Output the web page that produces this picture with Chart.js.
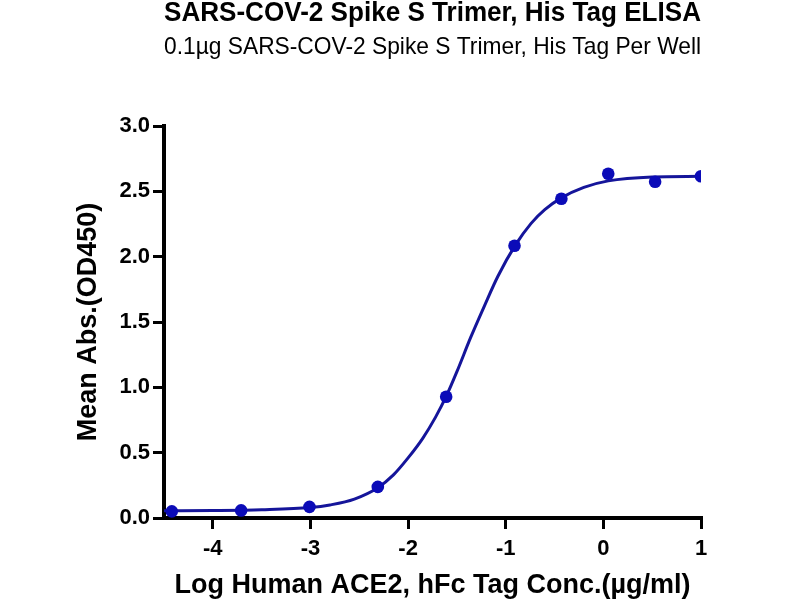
<!DOCTYPE html>
<html>
<head>
<meta charset="utf-8">
<script src="https://cdn.jsdelivr.net/npm/chart.js@4.4.1/dist/chart.umd.min.js"></script>
<style>
  html, body { margin: 0; padding: 0; background: #ffffff; }
  canvas { display: block; }
</style>
</head>
<body>
<canvas id="c" width="800" height="600"></canvas>
<script>
// Measured data points (log concentration, mean OD450)
const logConc = [-4.42, -3.71, -3.01, -2.31, -1.61, -0.91, -0.43, 0.05, 0.53, 1.0];
const meanAbs = [0.051, 0.058, 0.085, 0.238, 0.928, 2.083, 2.443, 2.634, 2.573, 2.616];

// Fitted curve
const fitX = [-4.5, -4.0, -3.5, -3.0, -2.8, -2.55, -2.31, -2.15, -2.0, -1.85, -1.72, -1.61, -1.5, -1.36, -1.22, -1.08, -0.9, -0.74, -0.6, -0.43, -0.2, 0.05, 0.5, 1.0];
const fitY = [0.055, 0.057, 0.063, 0.08, 0.10, 0.145, 0.232, 0.33, 0.46, 0.61, 0.77, 0.93, 1.12, 1.38, 1.62, 1.85, 2.09, 2.255, 2.36, 2.45, 2.53, 2.58, 2.61, 2.615];

// Tick labels
const xTicks = [-4, -3, -2, -1, 0, 1];
const yTicks = [0, 0.5, 1.0, 1.5, 2.0, 2.5, 3.0];

const titleText = 'SARS-COV-2 Spike S Trimer, His Tag ELISA';
const subtitleText = '0.1\u00b5g SARS-COV-2 Spike S Trimer, His Tag Per Well';
const xTitle = 'Log Human ACE2, hFc Tag Conc.(\u00b5g/ml)';
const yTitle = 'Mean Abs.(OD450)';

const pointData = logConc.map((x, i) => ({ x: x, y: meanAbs[i] }));
const curveData = fitX.map((x, i) => ({ x: x, y: fitY[i] }));

const FONT = "'Liberation Sans', Arial, Helvetica, sans-serif";

new Chart(document.getElementById('c'), {
  type: 'scatter',
  data: {
    datasets: [
      {
        label: 'Data',
        data: pointData,
        showLine: false,
        pointRadius: 6.3,
        pointHoverRadius: 6.3,
        pointBackgroundColor: '#0b0bb8',
        pointBorderColor: '#0b0bb8',
        pointBorderWidth: 0
      },
      {
        label: 'Fit',
        data: curveData,
        showLine: true,
        pointRadius: 0,
        borderColor: '#15159a',
        borderWidth: 3,
        cubicInterpolationMode: 'monotone',
        fill: false
      }
    ]
  },
  options: {
    responsive: false,
    animation: false,
    devicePixelRatio: 1,
    layout: { padding: { left: 0, right: 99, top: 0, bottom: 0 } },
    plugins: {
      legend: { display: false },
      tooltip: { enabled: false },
      title: {
        display: true,
        text: titleText,
        fullSize: false,
        color: '#000',
        font: { family: FONT, size: 27, weight: 'bold', lineHeight: 1 },
        padding: { top: 0, bottom: 0 }
      },
      subtitle: {
        display: true,
        text: subtitleText,
        fullSize: false,
        color: '#000',
        font: { family: FONT, size: 24, weight: 'normal', lineHeight: 1 },
        padding: { top: 8, bottom: 67 }
      }
    },
    scales: {
      x: {
        type: 'linear',
        min: -4.5,
        max: 1.0,
        afterFit: (s) => { s.height = 82; },
        afterBuildTicks: (s) => { s.ticks = xTicks.map(v => ({ value: v })); },
        border: { display: true, color: '#000', width: 4 },
        grid: { drawOnChartArea: false, drawTicks: true, tickLength: 11, color: '#000', lineWidth: 3 },
        ticks: {
          color: '#000',
          padding: 7,
          font: { family: FONT, size: 22, weight: 'bold' },
          callback: (v) => String(v)
        },
        title: {
          display: true,
          text: xTitle,
          color: '#000',
          font: { family: FONT, size: 27, weight: 'bold', lineHeight: 1 },
          padding: { top: 0, bottom: 1 }
        }
      },
      y: {
        type: 'linear',
        min: 0,
        max: 3.0,
        afterFit: (s) => { s.width = 164; },
        afterBuildTicks: (s) => { s.ticks = yTicks.map(v => ({ value: v })); },
        border: { display: true, color: '#000', width: 4 },
        grid: { drawOnChartArea: false, drawTicks: true, tickLength: 11, color: '#000', lineWidth: 3 },
        ticks: {
          color: '#000',
          padding: 3,
          font: { family: FONT, size: 22, weight: 'bold' },
          callback: (v) => Number(v).toFixed(1)
        },
        title: {
          display: true,
          text: yTitle,
          color: '#000',
          font: { family: FONT, size: 27, weight: 'bold', lineHeight: 1 },
          padding: { top: 75, bottom: 0 }
        }
      }
    }
  }
});
</script>
</body>
</html>
